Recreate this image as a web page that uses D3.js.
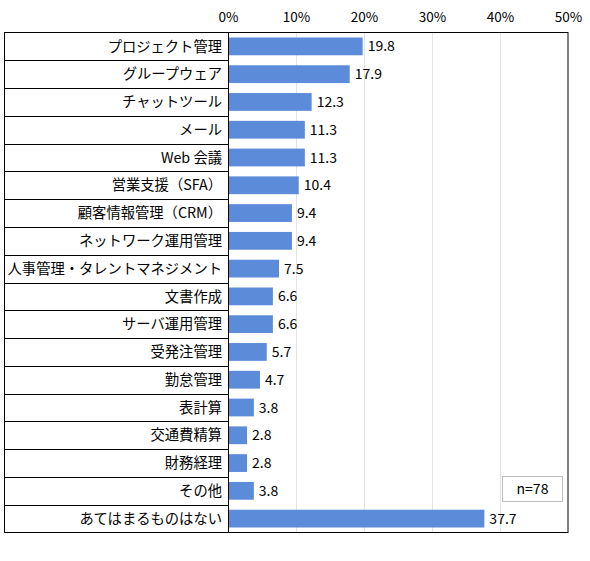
<!DOCTYPE html>
<html>
<head>
<meta charset="utf-8">
<script src="https://cdn.jsdelivr.net/npm/d3@7"></script>
<style>
  body { margin: 0; background: #fff; }
  text { font-family: "Noto Sans CJK JP", "Noto Sans", sans-serif; fill: #000; }
</style>
</head>
<body>
<script>
const categories = [
  "プロジェクト管理", "グループウェア", "チャットツール", "メール", "Web 会議",
  "営業支援（SFA）", "顧客情報管理（CRM）", "ネットワーク運用管理",
  "人事管理・タレントマネジメント", "文書作成", "サーバ運用管理", "受発注管理",
  "勤怠管理", "表計算", "交通費精算", "財務経理", "その他", "あてはまるものはない"
];
const values = [19.8, 17.9, 12.3, 11.3, 11.3, 10.4, 9.4, 9.4, 7.5, 6.6, 6.6, 5.7, 4.7, 3.8, 2.8, 2.8, 3.8, 37.7];
const ticks = [0, 10, 20, 30, 40, 50];
const note = "n=78";

const w = 590;
const h = 561;
const boxLeft = 4.5;   // outer box left
const plotLeft = 228;
const plotRight = 568;
const plotTop = 32.5;
const plotBottom = 532.5;

const svg = d3.select("body")
  .append("svg")
  .attr("width", w)
  .attr("height", h);

const xScale = d3.scaleLinear()
  .domain([0, 50])
  .range([plotLeft, plotRight]);

const yScale = d3.scaleBand()
  .domain(categories)
  .range([plotTop, plotBottom])
  .paddingInner(0.36)
  .paddingOuter(0.18);

// rows for label column
const rowScale = d3.scaleBand()
  .domain(categories)
  .range([plotTop, plotBottom]);

// gridlines
svg.append("g")
  .selectAll("line")
  .data(ticks.slice(1, -1))
  .enter()
  .append("line")
  .attr("x1", (d) => Math.round(xScale(d)) + 0.5)
  .attr("x2", (d) => Math.round(xScale(d)) + 0.5)
  .attr("y1", plotTop)
  .attr("y2", plotBottom)
  .attr("stroke", "#e3e3e3")
  .attr("stroke-width", 1);

// bars
svg.append("g")
  .selectAll("rect")
  .data(values)
  .enter()
  .append("rect")
  .attr("x", xScale(0))
  .attr("y", (d, i) => yScale(categories[i]))
  .attr("width", (d) => xScale(d) - xScale(0))
  .attr("height", yScale.bandwidth())
  .attr("fill", "#5b8bd9");

// value labels
svg.append("g")
  .selectAll("text")
  .data(values)
  .enter()
  .append("text")
  .attr("x", (d) => xScale(d) + 5)
  .attr("y", (d, i) => rowScale(categories[i]) + rowScale.bandwidth() / 2)
  .attr("dy", "0.36em")
  .attr("font-size", 14)
  .text((d) => d.toFixed(1));

// category labels
svg.append("g")
  .selectAll("text")
  .data(categories)
  .enter()
  .append("text")
  .attr("x", plotLeft - 6)
  .attr("y", (d) => rowScale(d) + rowScale.bandwidth() / 2)
  .attr("dy", "0.36em")
  .attr("text-anchor", "end")
  .attr("font-size", 14.3)
  .text((d) => d);

// row separators in label column
svg.append("g")
  .selectAll("line")
  .data(categories.slice(1))
  .enter()
  .append("line")
  .attr("x1", boxLeft)
  .attr("x2", plotLeft)
  .attr("y1", (d) => Math.round(rowScale(d)) + 0.5)
  .attr("y2", (d) => Math.round(rowScale(d)) + 0.5)
  .attr("stroke", "#000");

// outer box and axis line
svg.append("rect")
  .attr("x", boxLeft)
  .attr("y", plotTop)
  .attr("width", plotRight - boxLeft)
  .attr("height", plotBottom - plotTop)
  .attr("fill", "none")
  .attr("stroke", "#000");

svg.append("line")
  .attr("x1", plotLeft + 0.5)
  .attr("x2", plotLeft + 0.5)
  .attr("y1", plotTop)
  .attr("y2", plotBottom)
  .attr("stroke", "#000");

// top axis tick labels
const xAxis = d3.axisTop(xScale)
  .tickValues(ticks)
  .tickFormat((d) => d + "%")
  .tickSize(0)
  .tickPadding(0);

const ax = svg.append("g")
  .attr("transform", "translate(0,22)")
  .call(xAxis);
ax.select(".domain").remove();
ax.selectAll("text")
  .attr("font-size", 13.5)
  .attr("font-family", "'Noto Sans CJK JP', sans-serif")
  .attr("fill", "#000")
  .attr("dy", 0);

// n box
const nb = svg.append("g");
nb.append("rect")
  .attr("x", 502.5)
  .attr("y", 476.5)
  .attr("width", 60)
  .attr("height", 25)
  .attr("fill", "#fff")
  .attr("stroke", "#bfbfbf");
nb.append("text")
  .attr("x", 532.5)
  .attr("y", 489)
  .attr("dy", "0.36em")
  .attr("text-anchor", "middle")
  .attr("font-size", 14)
  .text(note);
</script>
</body>
</html>
